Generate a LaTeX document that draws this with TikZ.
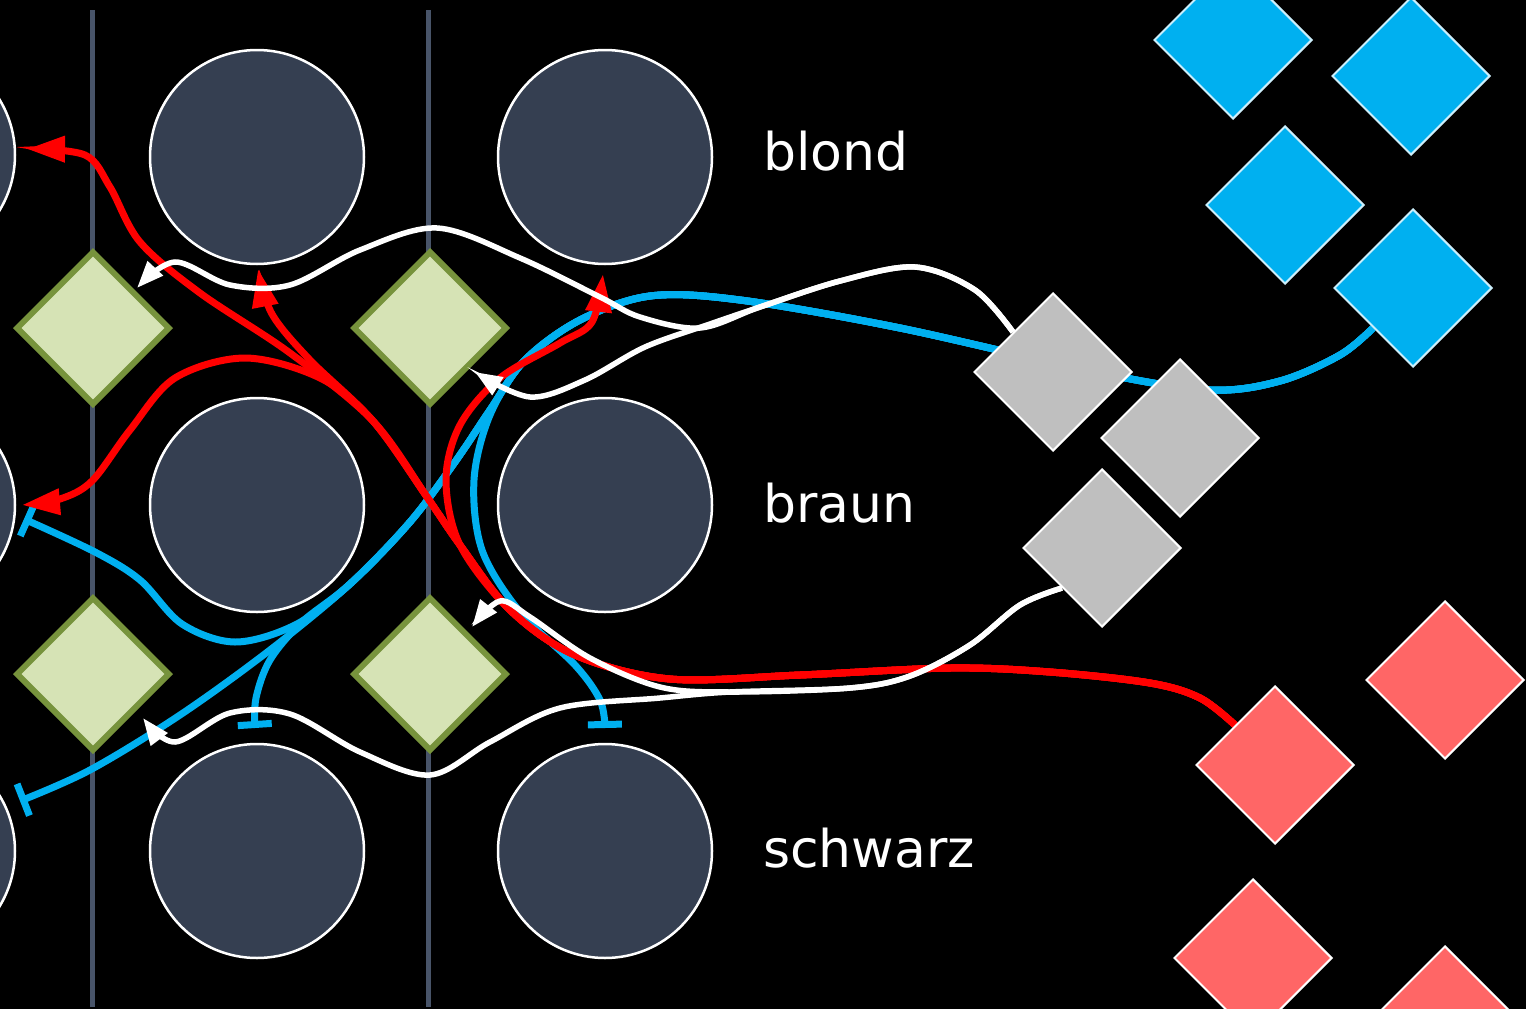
\documentclass[tikz,border=0pt]{standalone}
\usepackage{fontspec}
\setmainfont{DejaVu Sans}
\usetikzlibrary{shapes.geometric,arrows.meta}
\definecolor{circfill}{RGB}{53,63,81}
\definecolor{vline}{RGB}{72,84,105}
\definecolor{greenfill}{RGB}{214,227,181}
\definecolor{greenedge}{RGB}{119,147,60}
\definecolor{grayfill}{RGB}{191,191,191}
\definecolor{bluefill}{RGB}{0,176,240}
\definecolor{redfill}{RGB}{255,102,102}
\definecolor{redline}{RGB}{255,0,0}
\definecolor{blueline}{RGB}{0,176,240}
\pgfdeclarelayer{bg}
\pgfdeclarelayer{conn}
\pgfsetlayers{bg,conn,main}
\tikzset{
  circ/.style={circle, draw=white, line width=2.5pt, fill=circfill, minimum size=214pt, inner sep=0pt},
  gdia/.style={diamond, aspect=1, draw=greenedge, line width=6pt, fill=greenfill, minimum size=154pt, inner sep=0pt},
  sdia/.style={diamond, aspect=1, draw=white, line width=2pt, minimum size=158pt, inner sep=0pt},
  graydia/.style={sdia, fill=grayfill},
  bluedia/.style={sdia, fill=bluefill, draw=white!80!bluefill},
  reddia/.style={sdia, fill=redfill},
  vbar/.style={draw=vline, line width=5pt},
  lbl/.style={anchor=base west, inner sep=0pt, text=white, font=\fontsize{52}{62}\selectfont},
  redc/.style={draw=redline, line width=7pt, -{Triangle[length=38pt,width=25pt]}},
  bluec/.style={draw=blueline, line width=7pt, -{Bar[width=34pt]}},
  whitec/.style={draw=white, line width=5.5pt, -{Triangle[length=27pt,width=20pt]}},
  sm/.style={smooth, tension=0.55},
}
\begin{document}
\begin{tikzpicture}[x=1pt,y=-1pt]
\useasboundingbox (0,0) rectangle (1526,1009);
\begin{pgfonlayer}{bg}
\fill[black] (0,0) rectangle (1526,1009);
\draw[vbar] (92,10) -- (92,1007);
\draw[vbar] (428,10) -- (428,1007);
\node[circ] (cl1) at (-92,155) {};
\node[circ] (cl2) at (-92,505) {};
\node[circ] (cl3) at (-92,851) {};
\node[circ] (c11) at (257,157) {};
\node[circ] (c12) at (605,157) {};
\node[circ] (c21) at (257,505) {};
\node[circ] (c22) at (605,505) {};
\node[circ] (c31) at (257,851) {};
\node[circ] (c32) at (605,851) {};
\node[gdia] (g1) at (93,328) {};
\node[gdia] (g2) at (430,328) {};
\node[gdia] (g3) at (93,674) {};
\node[gdia] (g4) at (430,674) {};
\end{pgfonlayer}
\node[lbl] (tblond) at (763,170) {blond};
\node[lbl] (tbraun) at (763,522) {braun};
\node[lbl] (tschwarz) at (763,867) {schwarz};
% shapes on top
\node[graydia] (gA) at (1053,372) {};
\node[graydia] (gB) at (1180,438) {};
\node[graydia] (gC) at (1102,548) {};
\node[bluedia] (bA) at (1233,40) {};
\node[bluedia] (bB) at (1411,76) {};
\node[bluedia] (bC) at (1285,205) {};
\node[bluedia] (bD) at (1413,288) {};
\node[reddia] (rA) at (1275,765) {};
\node[reddia] (rB) at (1445,680) {};
\node[reddia] (rC) at (1253,958) {};
\node[reddia] (rD) at (1445,1025) {};
% free ends
\coordinate (eRA) at (603,274);
\coordinate (eRB) at (27,149);
\coordinate (eRC) at (258,269);
\coordinate (eRD) at (22,505);
\coordinate (eB1) at (605,728);
\coordinate (eB2) at (255,728);
\coordinate (eB3) at (20,801);
\coordinate (eB4) at (24,519);
\coordinate (eW1a) at (475,372);
\coordinate (eW1b) at (137,288);
\coordinate (eW2a) at (472,627);
\coordinate (eW2b) at (143,718);
\begin{pgfonlayer}{conn}
% blue
\draw[bluec] plot[sm] coordinates {(bD.south west) (1340,355) (1280,381) (1210,390) (1100,373) (900,328) (740,300) (650,296) (580,320) (525,360) (490,415) (474,480) (482,550) (520,612) (575,665) (600,700) (eB1)};
\draw[bluec] plot[sm] coordinates {(bD.south west) (1340,355) (1280,381) (1210,390) (1100,373) (900,328) (740,300) (650,296) (580,320) (525,360) (490,410) (455,462) (410,522) (350,584) (270,650) (180,715) (90,770) (eB3)};
\draw[bluec] plot[sm] coordinates {(bD.south west) (1340,355) (1280,381) (1210,390) (1100,373) (900,328) (740,300) (650,296) (580,320) (525,360) (490,410) (455,462) (410,522) (350,584) (302,622) (270,660) (256,698) (eB2)};
\draw[bluec] plot[sm] coordinates {(bD.south west) (1340,355) (1280,381) (1210,390) (1100,373) (900,328) (740,300) (650,296) (580,320) (525,360) (490,410) (455,462) (410,522) (350,584) (295,625) (235,642) (182,624) (140,580) (95,552) (eB4)};
% red
\draw[redc] plot[sm] coordinates {(rA.north west) (1200,698) (1150,683) (1050,672) (950,668) (800,675) (670,679) (575,655) (510,610) (460,545) (446,480) (460,425) (500,378) (560,343) (592,322) (eRA)};
\draw[redc] plot[sm] coordinates {(rA.north west) (1200,698) (1150,683) (1050,672) (950,668) (800,675) (670,679) (575,655) (510,610) (460,545) (427,497) (373,421) (290,353) (200,293) (140,242) (110,187) (85,155) (eRB)};
\draw[redc] plot[sm] coordinates {(rA.north west) (1200,698) (1150,683) (1050,672) (950,668) (800,675) (670,679) (575,655) (510,610) (460,545) (427,497) (373,421) (310,360) (272,314) (eRC)};
\draw[redc] plot[sm] coordinates {(rA.north west) (1200,698) (1150,683) (1050,672) (950,668) (800,675) (670,679) (575,655) (510,610) (460,545) (427,497) (373,421) (320,378) (245,358) (175,378) (130,430) (92,481) (60,499) (eRD)};
% white
\draw[whitec] plot[sm] coordinates {(gA.north west) (975,290) (915,267) (840,281) (760,307) (710,324) (645,347) (585,380) (530,397) (eW1a)};
\draw[whitec] plot[sm] coordinates {(gA.north west) (975,290) (915,267) (840,281) (760,307) (700,328) (640,317) (600,297) (520,258) (437,228) (360,250) (290,285) (230,285) (175,262) (eW1b)};
\draw[whitec] plot[sm] coordinates {(gC.south west) (1020,605) (970,645) (910,676) (850,688) (730,692) (660,687) (590,658) (530,617) (500,601) (eW2a)};
\draw[whitec] plot[sm] coordinates {(gC.south west) (1020,605) (970,645) (910,676) (850,688) (730,692) (660,698) (560,708) (490,742) (430,775) (360,752) (290,714) (230,713) (175,742) (eW2b)};
\end{pgfonlayer}
\end{tikzpicture}
\end{document}
